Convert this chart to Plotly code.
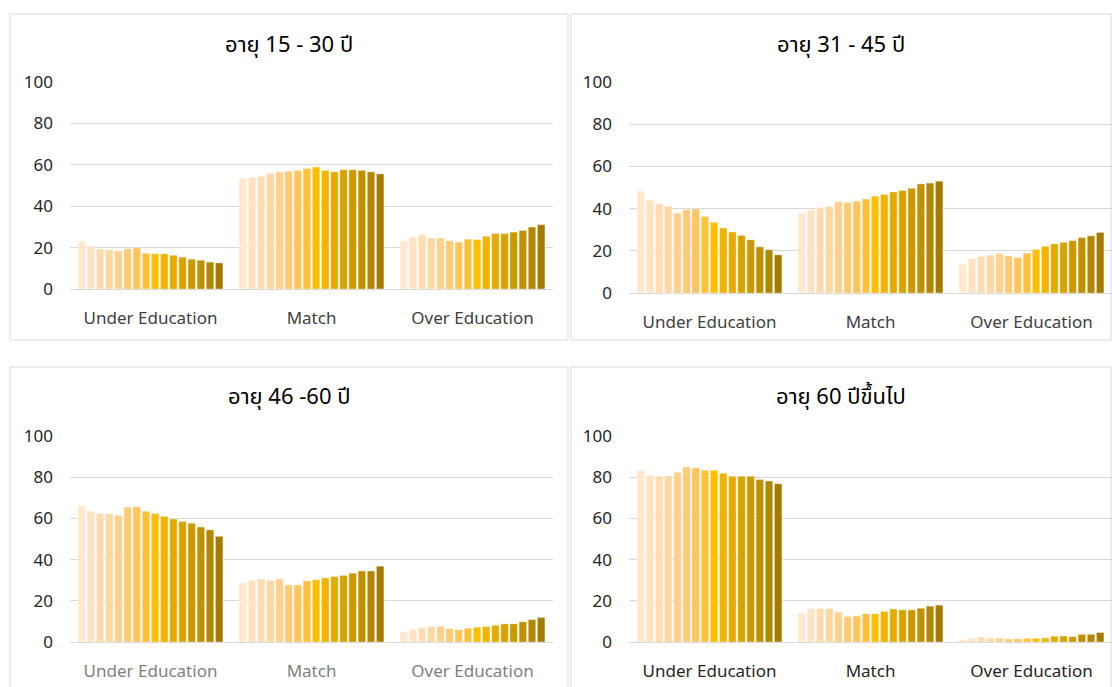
import plotly.graph_objects as go

W, H = 1112, 687

categories = ["Under Education", "Match", "Over Education"]
titles = ["อายุ 15 - 30 ปี", "อายุ 31 - 45 ปี", "อายุ 46 -60 ปี", "อายุ 60 ปีขึ้นไป"]
y_ticks = [0, 20, 40, 60, 80, 100]

# Panel 1: age 15-30
p1_under = [23.2, 20.8, 19.4, 18.9, 18.4, 19.4, 19.8, 17.3, 17.0, 17.0, 16.3, 15.4, 14.4, 13.9, 13.0, 12.6]
p1_match = [53.4, 54.0, 54.4, 55.8, 56.6, 56.9, 57.3, 58.2, 58.9, 57.3, 56.6, 57.6, 57.6, 57.3, 56.6, 55.6]
p1_over = [23.3, 25.0, 26.2, 24.7, 24.7, 23.3, 22.6, 24.1, 23.9, 25.5, 26.8, 26.8, 27.5, 28.3, 29.9, 31.1]

# Panel 2: age 31-45
p2_under = [48.3, 44.0, 42.2, 41.1, 37.9, 39.5, 39.8, 36.3, 33.5, 30.8, 28.9, 27.3, 25.2, 21.9, 20.5, 18.1]
p2_match = [37.8, 39.5, 40.5, 41.0, 43.2, 42.9, 43.5, 44.6, 45.9, 46.7, 47.9, 48.6, 49.7, 51.7, 52.1, 53.0]
p2_over = [13.8, 16.2, 17.3, 18.0, 18.7, 17.6, 16.8, 18.9, 20.6, 22.1, 23.3, 24.0, 24.8, 26.3, 27.1, 28.7]

# Panel 3: age 46-60
p3_under = [66.1, 63.5, 62.4, 62.4, 61.5, 65.5, 65.6, 63.5, 62.4, 61.0, 59.7, 58.5, 57.6, 55.8, 54.4, 51.3]
p3_match = [28.7, 30.0, 30.6, 30.0, 30.6, 27.7, 27.7, 29.7, 30.2, 31.1, 31.8, 32.3, 33.4, 34.5, 34.5, 36.8]
p3_over = [4.9, 6.0, 6.8, 7.5, 7.5, 6.5, 6.0, 6.7, 7.2, 7.5, 8.1, 8.8, 8.8, 9.8, 10.9, 11.9]

# Panel 4: age 60+
p4_under = [83.4, 81.0, 80.5, 80.6, 82.4, 85.0, 84.6, 83.4, 83.4, 81.9, 80.5, 80.5, 80.5, 78.9, 78.2, 76.8]
p4_match = [14.2, 16.3, 16.3, 16.3, 14.5, 12.4, 12.7, 13.7, 13.7, 14.8, 16.0, 15.6, 15.6, 16.4, 17.4, 17.9]
p4_over = [1.0, 1.8, 2.4, 1.8, 2.0, 1.5, 1.5, 1.8, 1.8, 2.0, 2.8, 2.9, 2.6, 3.7, 3.7, 4.6]

colors = ["#FFE8CE", "#FFE2BF", "#FFDCB0", "#FFD7A1", "#FFD08C", "#FFCA74", "#FFC55C",
          "#FFC13C", "#FFBE00", "#F2B400", "#E6AB00", "#D9A200", "#CC9900", "#BF9000",
          "#B38600", "#A67C00"]

panels = [
    (p1_under, p1_match, p1_over),
    (p2_under, p2_match, p2_over),
    (p3_under, p3_match, p3_over),
    (p4_under, p4_match, p4_over),
]

FONT = "Tahoma, 'Noto Sans Thai', 'Noto Sans', 'DejaVu Sans', sans-serif"

# pixel layout of each panel: (plot x0, plot x1, y of 100, y of 0, box x0, box x1, box y0, box y1, title y, label color)
geo = [
    (70, 553, 82, 289, 10, 568, 14, 340, 45, "#404040"),
    (629, 1112, 82, 293, 571, 1111, 14, 340, 45, "#404040"),
    (70, 553, 436, 642, 10, 568, 367, 700, 397, "#7F7F7F"),
    (629, 1112, 436, 642, 571, 1111, 367, 700, 397, "#262626"),
]

fig = go.Figure()
shapes = []
annotations = []

for k, (under, match, over) in enumerate(panels):
    ax = "" if k == 0 else str(k + 1)
    for i in range(16):
        fig.add_trace(go.Bar(
            x=categories,
            y=[under[i], match[i], over[i]],
            marker=dict(color=colors[i], line=dict(color="rgba(255,255,255,0.6)", width=0.6)),
            xaxis="x" + ax, yaxis="y" + ax,
            showlegend=False, hoverinfo="y",
        ))
    px0, px1, py100, py0, bx0, bx1, by0, by1, ty, lc = geo[k]
    fig.layout["xaxis" + ax] = dict(
        domain=[px0 / W, px1 / W], anchor="y" + ax, type="category", automargin=False,
        showgrid=False, showline=False, ticks="", zeroline=False,
        tickfont=dict(family=FONT, size=17, color=lc), ticklabelstandoff=17,
    )
    fig.layout["yaxis" + ax] = dict(
        domain=[1 - py0 / H, 1 - py100 / H], anchor="x" + ax, range=[0, 100], automargin=False,
        tickvals=y_ticks, showgrid=True, gridcolor="#D9D9D9", gridwidth=1,
        zeroline=True, zerolinecolor="#D9D9D9", zerolinewidth=1, showline=False,
        tickfont=dict(family=FONT, size=17, color="#262626"), ticklabelstandoff=16,
    )
    shapes.append(dict(type="rect", xref="paper", yref="paper",
                       x0=bx0 / W, x1=bx1 / W, y0=1 - by1 / H, y1=1 - by0 / H,
                       line=dict(color="#D9D9D9", width=1), fillcolor="rgba(0,0,0,0)"))
    annotations.append(dict(text=titles[k], xref="paper", yref="paper",
                            x=(bx0 + bx1) / 2 / W, y=1 - ty / H, xanchor="center", yanchor="middle",
                            showarrow=False, font=dict(family=FONT, size=22, color="#000000")))

fig.update_layout(
    width=W, height=H, margin=dict(l=0, r=0, t=0, b=0, autoexpand=False),
    paper_bgcolor="white", plot_bgcolor="white",
    barmode="group", bargap=0.09, bargroupgap=0.18,
    shapes=shapes, annotations=annotations,
    font=dict(family=FONT),
)

fig.write_html("out.html")
